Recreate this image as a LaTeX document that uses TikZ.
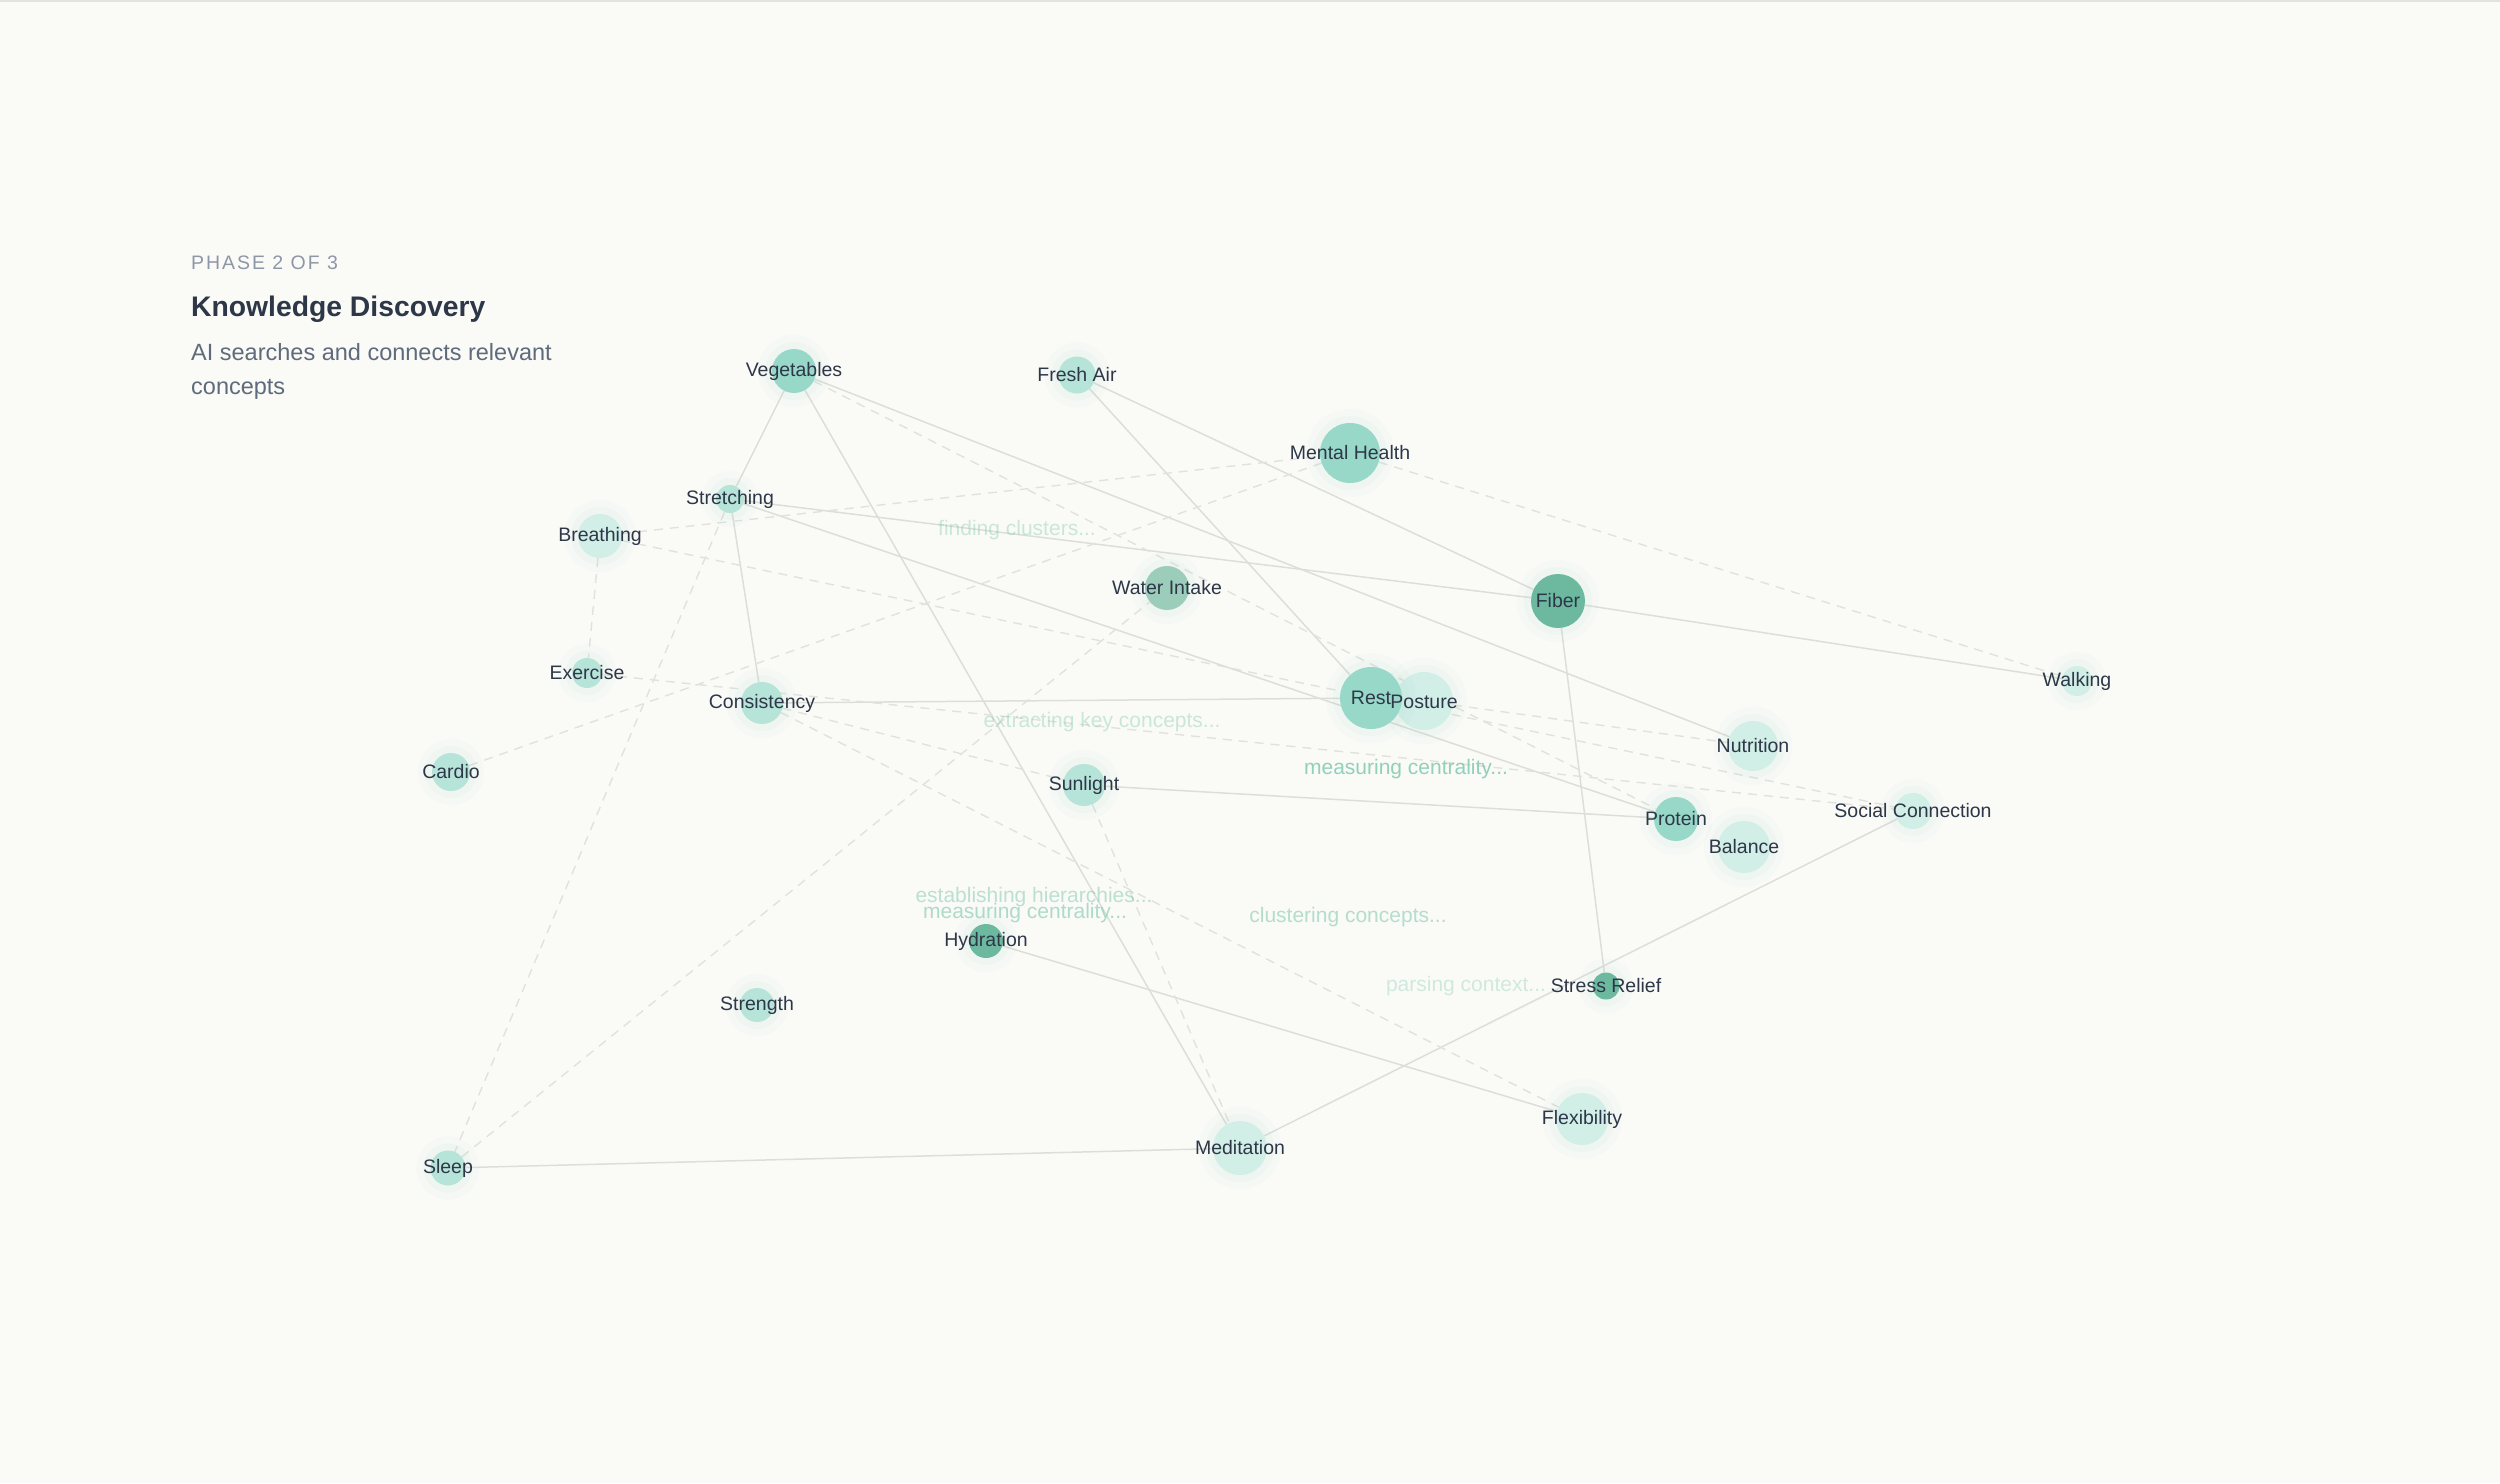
\documentclass[tikz,border=0pt]{standalone}
\usepackage{fontspec}
\setmainfont{Liberation Sans}
\usepackage{tikz}
\pgfdeclarelayer{bg}
\pgfsetlayers{bg,main}
\definecolor{paper}{HTML}{FAFAF7}
\definecolor{ink}{HTML}{2D3748}
\definecolor{phase}{HTML}{8E97A6}
\definecolor{sub}{HTML}{5F6B7C}
\definecolor{edgec}{HTML}{DEDED9}
\definecolor{hintc}{HTML}{E2E2DC}
\definecolor{rim}{HTML}{E2E2E2}
\definecolor{tdark}{HTML}{6CB9A0}
\definecolor{tmid}{HTML}{98D8C8}
\definecolor{tgrey}{HTML}{9CCDBA}
\definecolor{tsoft}{HTML}{B6E4D8}
\definecolor{tpale}{HTML}{D1EEE7}
\definecolor{glow}{HTML}{8FD0BD}
\definecolor{stat}{HTML}{6FC2A7}

\begin{document}
\begin{tikzpicture}[x=1pt,y=-1pt]
\tikzstyle{every node}=[inner sep=0pt]
\tikzstyle{nodetag}=[text=ink,font=\fontsize{19.5}{23}\selectfont]
\tikzstyle{every label}=[nodetag]
\tikzstyle{dot}=[circle,inner sep=0pt,
  preaction={draw=glow,line width=28pt,draw opacity=0.045},
  preaction={draw=glow,line width=14pt,draw opacity=0.06}]
\tikzstyle{darkdot}=[dot,fill=tdark]
\tikzstyle{middot}=[dot,fill=tmid]
\tikzstyle{greydot}=[dot,fill=tgrey]
\tikzstyle{softdot}=[dot,fill=tsoft]
\tikzstyle{paledot}=[dot,fill=tpale]
\tikzstyle{solidlink}=[draw=edgec,line width=1.5pt]
\tikzstyle{dashlink}=[draw=hintc,line width=1.4pt,dash pattern=on 9pt off 7pt]
\tikzstyle{statustext}=[text=stat,font=\fontsize{21}{25}\selectfont]
\useasboundingbox (0,0) rectangle (2500,1483);
\node (PH) at (191,269) [anchor=base west,text=phase,font=\fontsize{19.5}{23}\selectfont\addfontfeature{LetterSpace=10}] {PHASE 2 OF 3};
\node (KD) at (191,316) [anchor=base west,text=ink,font=\fontsize{28.3}{34}\selectfont\bfseries] {Knowledge Discovery};
\node (AI) at (191,343) [anchor=north west,align=left,text=sub,font=\fontsize{23.5}{34}\selectfont] {AI searches and connects relevant\\concepts};
\node (S1) at (1017,530) [statustext,text opacity=.35] {finding clusters...};
\node (S2) at (1102,722) [statustext,text opacity=.35] {extracting key concepts...};
\node (S3) at (1406,769) [statustext,text opacity=.75] {measuring centrality...};
\node (S4) at (1034,897) [statustext,text opacity=.45] {establishing hierarchies...};
\node (S5) at (1025,913) [statustext,text opacity=.55] {measuring centrality...};
\node (S6) at (1348,917) [statustext,text opacity=.5] {clustering concepts...};
\node (S7) at (1466,986) [statustext,text opacity=.3] {parsing context...};
\node (VG) at (794,371) [middot,minimum size=44,label=center:Vegetables] {};
\node (FA) at (1077,375) [softdot,minimum size=37,label=center:Fresh Air] {};
\node (MH) at (1350,453) [middot,minimum size=60,label=center:Mental Health] {};
\node (ST) at (730,499) [softdot,minimum size=28,label=center:Stretching] {};
\node (BR) at (600,536) [paledot,minimum size=44,label=center:Breathing] {};
\node (WI) at (1167,588) [greydot,minimum size=44,label=center:Water Intake] {};
\node (FB) at (1558,601) [darkdot,minimum size=54,label=center:Fiber] {};
\node (EX) at (587,673) [softdot,minimum size=30,label=center:Exercise] {};
\node (CO) at (762,703) [softdot,minimum size=42,label=center:Consistency] {};
\node (PO) at (1424,701) [paledot,minimum size=58] {};
\node (RE) at (1371,698) [middot,minimum size=62,label=center:Rest] {};
\node (POT) at (1424,702) [nodetag] {Posture};
\node (WA) at (2077,681) [paledot,minimum size=30,label=center:Walking] {};
\node (NU) at (1753,746) [paledot,minimum size=50,label=center:Nutrition] {};
\node (CA) at (451,772) [softdot,minimum size=38,label=center:Cardio] {};
\node (SU) at (1084,785) [softdot,minimum size=42,label=center:Sunlight] {};
\node (PR) at (1676,819) [middot,minimum size=44,label=center:Protein] {};
\node (SC) at (1913,811) [paledot,minimum size=36,label=center:Social Connection] {};
\node (BA) at (1744,847) [paledot,minimum size=52,label=center:Balance] {};
\node (HY) at (986,941) [darkdot,minimum size=34,label=center:Hydration] {};
\node (SG) at (757,1005) [softdot,minimum size=34,label=center:Strength] {};
\node (SR) at (1606,986) [darkdot,minimum size=27,label=center:Stress Relief] {};
\node (FL) at (1582,1119) [paledot,minimum size=52,label=center:Flexibility] {};
\node (ME) at (1240,1148) [paledot,minimum size=54,label=center:Meditation] {};
\node (SL) at (448,1168) [softdot,minimum size=35,label=center:Sleep] {};
\draw[rim,line width=2pt] (0,1) -- (2500,1);
\begin{pgfonlayer}{bg}
\fill[paper] (0,0) rectangle (2500,1483);
\draw[solidlink] (VG) -- (ST);
\draw[solidlink] (VG) -- (ME);
\draw[solidlink] (VG) -- (NU);
\draw[solidlink] (FA) -- (FB);
\draw[solidlink] (FA) -- (RE);
\draw[solidlink] (ST) -- (FB);
\draw[solidlink] (ST) -- (PR);
\draw[solidlink] (ST) -- (CO);
\draw[solidlink] (CO) -- (RE);
\draw[solidlink] (SU) -- (PR);
\draw[solidlink] (HY) -- (FL);
\draw[solidlink] (ME) -- (SC);
\draw[solidlink] (FB) -- (SR);
\draw[solidlink] (FB) -- (WA);
\draw[solidlink] (SL) -- (ME);
\draw[dashlink] (VG) -- (PR);
\draw[dashlink] (ST) -- (SL);
\draw[dashlink] (BR) -- (EX);
\draw[dashlink] (BR) -- (MH);
\draw[dashlink] (BR) -- (SC);
\draw[dashlink] (CA) -- (MH);
\draw[dashlink] (SL) -- (WI);
\draw[dashlink] (EX) -- (SC);
\draw[dashlink] (CO) -- (FL);
\draw[dashlink] (CO) -- (SU);
\draw[dashlink] (SU) -- (ME);
\draw[dashlink] (MH) -- (WA);
\draw[dashlink] (PO) -- (NU);
\end{pgfonlayer}
\end{tikzpicture}
\end{document}
